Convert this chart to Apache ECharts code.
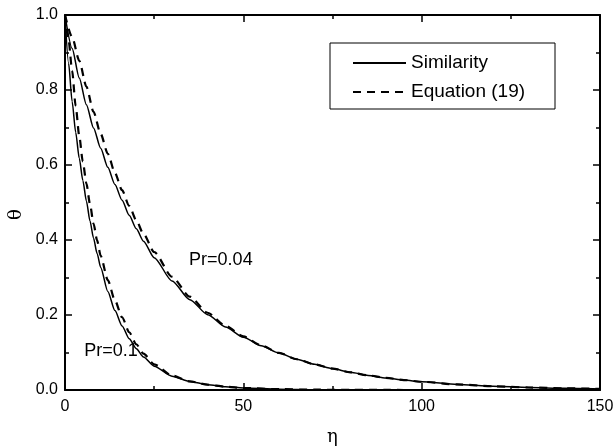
<!DOCTYPE html>
<html>
<head>
<meta charset="utf-8">
<script src="https://cdn.jsdelivr.net/npm/echarts@6/dist/echarts.min.js"></script>
<style>
  html, body { margin: 0; padding: 0; background: #fff; }
  #chart { width: 613px; height: 446px; }
</style>
</head>
<body>
<div id="chart"></div>
<script>
// eta grid + theta values
const etaPr01 = [0, 1, 2, 3, 4, 5, 6, 7, 8, 9, 10, 12, 14, 16, 18, 20, 22, 25, 30, 35, 40, 45, 50, 60, 70, 80, 90, 100, 110, 120, 130, 140, 150];
const simPr01 = [1.0, 0.872, 0.769, 0.687, 0.618, 0.559, 0.504, 0.451, 0.405, 0.364, 0.327, 0.263, 0.212, 0.171, 0.137, 0.110, 0.088, 0.0636, 0.037, 0.0227, 0.0142, 0.0088, 0.0055, 0.0022, 0.0008, 0.0003, 0.0001, 0, 0, 0, 0, 0, 0];
const eqPr01 = [1.0, 0.933, 0.851, 0.757, 0.677, 0.609, 0.551, 0.496, 0.444, 0.399, 0.358, 0.293, 0.239, 0.194, 0.154, 0.122, 0.097, 0.0685, 0.0386, 0.023, 0.0142, 0.0088, 0.0055, 0.0022, 0.0008, 0.0003, 0.0001, 0, 0, 0, 0, 0, 0];

const etaPr004 = [0, 2, 4, 6, 8, 10, 12, 14, 16, 18, 20, 22, 25, 30, 35, 40, 45, 50, 55, 60, 65, 70, 75, 80, 85, 90, 95, 100, 110, 120, 130, 140, 150];
const simPr004 = [1.0, 0.911, 0.832, 0.761, 0.699, 0.645, 0.594, 0.548, 0.506, 0.466, 0.430, 0.397, 0.353, 0.291, 0.241, 0.201, 0.168, 0.141, 0.118, 0.0986, 0.082, 0.0684, 0.0571, 0.0472, 0.039, 0.0322, 0.0266, 0.022, 0.0148, 0.010, 0.0067, 0.0045, 0.003];
const eqPr004 = [1.0, 0.941, 0.878, 0.809, 0.742, 0.683, 0.630, 0.579, 0.533, 0.491, 0.452, 0.416, 0.368, 0.302, 0.249, 0.206, 0.171, 0.143, 0.119, 0.099, 0.082, 0.0684, 0.0571, 0.0472, 0.039, 0.0322, 0.0266, 0.022, 0.0148, 0.010, 0.0067, 0.0045, 0.003];

// curve annotations [eta, theta, text]
const curveLabels = [
  [43.7, 0.347, "Pr=0.04"],
  [12.9, 0.104, "Pr=0.1"],
];

const FONT = "Liberation Sans, Arial, sans-serif";
const pairs = (xs, ys) => xs.map((x, i) => [x, ys[i]]);

const chart = echarts.init(document.getElementById("chart"), null, { renderer: "canvas" });

function curve(name, xs, ys, dashed) {
  return {
    name,
    type: "line",
    data: pairs(xs, ys),
    symbol: "none",
    smooth: 0.25,
    smoothMonotone: "x",
    lineStyle: dashed
      ? { color: "#000", width: 2.2, type: [8, 6] }
      : { color: "#000", width: 1.5 },
    itemStyle: { color: "#000" },
    z: dashed ? 3 : 2,
  };
}

const tickStyle = { inside: true, length: 7, lineStyle: { color: "#000", width: 1.5 } };
const minorStyle = { show: true, splitNumber: 2, length: 4, lineStyle: { color: "#000", width: 1.5 } };
const lineAxis = { show: true, onZero: false, lineStyle: { color: "#000", width: 2 } };

const series = [
  curve("Similarity", etaPr01, simPr01, false),
  curve("Equation (19)", etaPr01, eqPr01, true),
  curve("Similarity", etaPr004, simPr004, false),
  curve("Equation (19)", etaPr004, eqPr004, true),
];

// text labels attached to first series via markPoint
series[0].markPoint = {
  symbol: "circle",
  symbolSize: 0,
  silent: true,
  data: curveLabels.map(([x, y, t]) => ({
    coord: [x, y],
    label: { show: true, formatter: t, position: "inside", color: "#000", fontSize: 18, fontFamily: FONT },
  })),
};

chart.setOption({
  backgroundColor: "#fff",
  animation: false,
  grid: { left: 65, right: 13, top: 15, bottom: 56, containLabel: false, outerBoundsMode: "none" },
  legend: {
    orient: "vertical",
    left: 352,
    top: 53,
    padding: 0,
    itemWidth: 53,
    itemHeight: 14,
    itemGap: 9,
    data: ["Similarity", "Equation (19)"],
    itemStyle: { color: "rgba(0,0,0,0)", borderWidth: 0, opacity: 0 },
    textStyle: { color: "#000", fontSize: 19, fontFamily: FONT, lineHeight: 20 },
    selectedMode: false,
  },
  graphic: [
    {
      type: "rect",
      shape: { x: 330, y: 43, width: 225, height: 66 },
      style: { fill: "none", stroke: "#000", lineWidth: 1 },
      z: 1,
    },
  ],
  xAxis: [
    {
      type: "value",
      min: 0,
      max: 150,
      interval: 50,
      name: "η",
      nameLocation: "middle",
      nameGap: 38,
      nameTextStyle: { color: "#000", fontSize: 18, fontFamily: "DejaVu Serif, serif" },
      axisLine: lineAxis,
      axisTick: tickStyle,
      minorTick: minorStyle,
      splitLine: { show: false },
      axisLabel: { color: "#000", fontSize: 16, fontFamily: FONT, margin: 9 },
    },
    {
      type: "value",
      position: "top",
      min: 0,
      max: 150,
      interval: 50,
      axisLine: lineAxis,
      axisTick: tickStyle,
      minorTick: minorStyle,
      splitLine: { show: false },
      axisLabel: { show: false },
    },
  ],
  yAxis: [
    {
      type: "value",
      min: 0,
      max: 1,
      interval: 0.2,
      name: "θ",
      nameLocation: "middle",
      nameGap: 40,
      nameRotate: 90,
      nameTextStyle: { color: "#000", fontSize: 18, fontFamily: "DejaVu Serif, serif", padding: [0, 24, 0, 0] },
      axisLine: lineAxis,
      axisTick: tickStyle,
      minorTick: minorStyle,
      splitLine: { show: false },
      axisLabel: { color: "#000", fontSize: 16, fontFamily: FONT, margin: 7, formatter: (v) => v.toFixed(1) },
    },
    {
      type: "value",
      position: "right",
      min: 0,
      max: 1,
      interval: 0.2,
      axisLine: lineAxis,
      axisTick: tickStyle,
      minorTick: minorStyle,
      splitLine: { show: false },
      axisLabel: { show: false },
    },
  ],
  series,
});
</script>
</body>
</html>
